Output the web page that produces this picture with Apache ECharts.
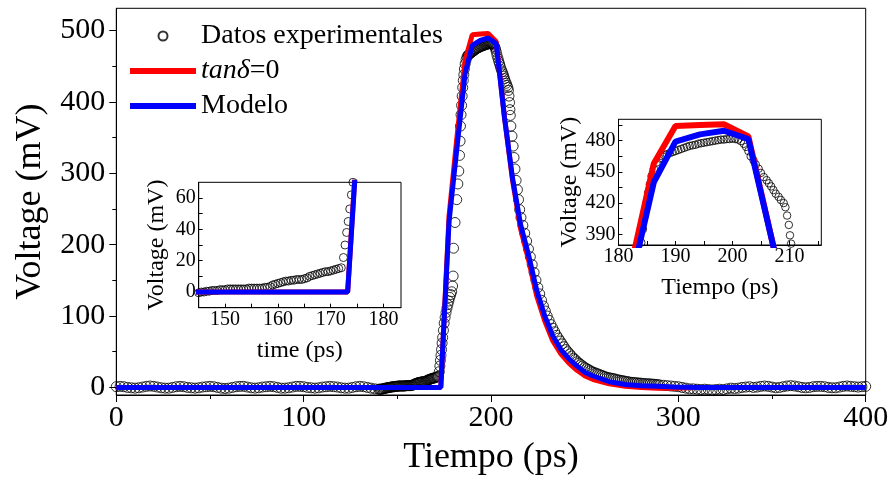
<!DOCTYPE html>
<html>
<head>
<meta charset="utf-8">
<script src="https://cdn.jsdelivr.net/npm/echarts@6/dist/echarts.min.js"></script>
<style>
  html, body { margin: 0; padding: 0; background: #fff; }
  #chart { width: 893px; height: 481px; }
</style>
</head>
<body>
<div id="chart"></div>
<script>
// tick values
const xTicks = [0, 100, 200, 300, 400];
const yTicks = [0, 100, 200, 300, 400, 500];
const yMinorTicks = [50, 150, 250, 350, 450];
const inset1XLabels = [150, 160, 170, 180];
const inset1XTicks = [150, 155, 160, 165, 170, 175, 180];
const inset1YLabels = [0, 20, 40, 60];
const inset1YTicks = [0, 10, 20, 30, 40, 50, 60];
const inset2XLabels = [180, 190, 200, 210];
const inset2XTicks = [185, 190, 195, 200, 205, 210, 215];
const inset2YLabels = [390, 420, 450, 480];
const inset2YTicks = [390, 405, 420, 435, 450, 465, 480, 495];

// measured pulse: [time ps, voltage mV]
const expData = [
  [0, 1], [2, 1.5], [4, 1], [6, 0], [8, -0.5], [10, -1], [12, -0.5], [14, 0.5], [16, 1.5], [18, 2],
  [20, 1.5], [22, 0.5], [24, -0.5], [26, -1], [28, -1], [30, 0], [32, 1], [34, 1.5], [36, 1], [38, 0],
  [40, -0.5], [42, -1], [44, -0.5], [46, 0.5], [48, 1], [50, 1.5], [52, 1], [54, 0], [56, -1], [58, -1.5],
  [60, -1], [62, 0], [64, 1], [66, 1.5], [68, 1.5], [70, 0.5], [72, -0.5], [74, -1], [76, -0.5], [78, 0.5],
  [80, 1], [82, 1.5], [84, 1], [86, 0], [88, -1], [90, -1], [92, -0.5], [94, 0.5], [96, 1.5], [98, 1.5],
  [100, 1], [102, 0], [104, -0.5], [106, -1], [108, -0.5], [110, 0.5], [112, 1], [114, 1.5], [116, 1], [118, 0.5],
  [120, -0.5], [122, -1], [124, -1], [126, 0], [128, 1], [130, 1.5], [132, 1], [134, 0], [136, -1], [138, -2],
  [140, -2.5], [140.5, -2.5], [141, -2.5], [141.5, -2.5], [142, -2], [142.5, -2], [143, -1.5], [143.5, -1], [144, -1], [144.5, -0.5],
  [145, -0.5], [145.5, 0], [146, 0], [146.5, 0.5], [147, 0.5], [147.5, 1], [148, 1], [148.5, 1], [149, 1.5], [149.5, 1.5],
  [150, 1.5], [150.5, 2], [151, 2], [151.5, 2], [152, 2], [152.5, 2], [153, 2], [153.5, 2], [154, 2], [154.5, 2.5],
  [155, 2.5], [155.5, 2.5], [156, 2.5], [156.5, 2.5], [157, 2.5], [157.5, 3], [158, 3], [158.5, 3.5], [159, 4.5], [159.5, 5],
  [160, 5.5], [160.5, 6], [161, 6.5], [161.5, 7], [162, 7], [162.5, 7.5], [163, 7.5], [163.5, 8], [164, 8], [164.5, 8],
  [165, 8.5], [165.5, 9], [166, 10], [166.5, 10.5], [167, 11], [167.5, 11.5], [168, 12], [168.5, 12.5], [169, 13], [169.5, 13],
  [170, 13.5], [170.5, 14], [171, 14.5], [171.5, 15], [172, 15.5], [172.4, 22], [172.7, 30], [173, 38], [173.3, 45], [173.6, 53],
  [173.9, 62], [174.2, 70], [174.6, 80], [175, 90], [175.5, 98], [176, 105], [176.5, 111], [177, 116], [177.5, 121], [178, 126],
  [178.5, 130], [179, 134], [179.5, 142], [179.8, 156], [180, 195], [180.8, 231], [181.7, 263], [182.3, 285], [182.8, 303], [183.2, 325],
  [183.5, 345], [183.7, 366], [184, 382], [184.3, 395], [184.6, 408], [184.9, 420], [185.2, 430], [185.5, 438], [185.8, 446], [186.2, 453],
  [186.7, 459], [187.2, 463], [187.7, 465], [188, 466], [188.5, 467], [189, 468], [189.5, 469], [190, 470], [190.5, 471], [191, 472],
  [191.5, 473], [192, 474], [192.5, 475], [193, 475.5], [193.5, 476], [194, 477], [194.5, 477.5], [195, 478], [195.5, 478.5], [196, 479],
  [196.5, 479.5], [197, 480], [197.5, 480.5], [198, 481], [198.5, 481], [199, 481.5], [199.5, 481.5], [200, 482], [200.5, 481.5], [201, 481],
  [201.5, 479.5], [202, 477], [202.4, 474], [202.8, 470], [203.2, 465], [203.7, 461], [204.1, 457], [204.6, 453], [205, 449], [205.5, 445],
  [206, 442], [206.4, 439], [206.8, 436], [207.2, 432.5], [207.6, 429], [208.1, 426], [208.5, 423], [209, 420], [209.3, 416], [209.6, 408],
  [209.9, 399], [210.1, 389], [210.3, 381], [210.6, 366], [211.2, 352], [211.8, 338], [212.3, 322], [212.8, 306], [213.4, 290], [214.1, 277],
  [214.7, 263], [215.3, 249], [216, 238], [217, 227], [218, 216], [219, 205], [220, 194], [221, 183], [222, 172], [223, 161],
  [224, 150], [225, 140], [226, 131], [227, 122], [228, 114], [229, 107], [230, 100], [231, 94], [232, 88], [233, 83],
  [234, 78], [235, 73], [236, 69], [237, 65], [238, 61], [239, 57], [240, 53], [241, 50], [242, 47], [243, 44],
  [244, 41], [245, 39], [246, 36], [247, 34], [248, 32], [249, 30], [250, 28], [251, 26.5], [252, 25], [253, 23.5],
  [254, 22], [255, 21], [256, 20], [257, 19], [258, 18], [259, 17], [260, 16], [261, 15], [262, 14], [263, 13.5],
  [264, 13], [265, 12.5], [266, 12], [267, 11], [268, 10.5], [269, 10], [270, 9.5], [271, 9], [272, 8.5], [273, 8],
  [274, 7.5], [275, 7], [276, 7], [277, 6.5], [278, 6.5], [279, 6], [280, 6], [281, 5.5], [282, 5.5], [283, 5],
  [284, 5], [285, 5], [286, 4.5], [287, 4.5], [288, 4], [289, 4], [290, 3.5], [292, 3], [294, 2.5], [296, 2],
  [298, 1.5], [300, 1], [302, 0], [304, -1], [306, -2], [308, -2], [310, -2.5], [312, -3], [314, -2.5], [316, -3],
  [318, -3.5], [320, -3], [322, -2.5], [324, -3], [326, -2], [328, -1], [330, -1.5], [332, -1], [334, 0], [336, 0.5],
  [338, 1], [340, 0], [342, 0.5], [344, 1.5], [346, 2], [348, 1.5], [350, 0.5], [352, -0.5], [354, 0], [356, 1],
  [358, 2], [360, 2.5], [362, 2], [364, 1], [366, 0], [368, -0.5], [370, 0], [372, 1], [374, 1.5], [376, 1.5],
  [378, 1], [380, 0], [382, -0.5], [384, -0.5], [386, 0.5], [388, 1.5], [390, 2], [392, 1.5], [394, 1], [396, 0.5],
  [398, 1], [400, 1.5]
];

// simulated curves, shared time grid
const modelTime = [0, 173.2, 177.6, 182, 186.2, 190, 194.3, 198.5, 202.8, 207.2, 211.5, 215.8, 220.1, 224.4,
  228.7, 233, 237.3, 241.6, 245.9, 250.2, 254.5, 263.1, 271.7, 280.3, 288.9, 297.5, 310, 400];
const tanDeltaVolt = [0, 0, 240, 355, 458, 494, 495, 495.7, 484, 378, 290, 222, 178, 128,
  93, 65, 47, 34, 24, 16, 11, 5, 1.5, 0, -1, -1, 0, 0];
const modelVolt = [0, 0, 232, 340, 440, 479, 486, 489.5, 481.5, 378, 293, 228, 185, 136,
  100, 72, 53, 40, 30, 21, 16, 8, 4, 2.5, 1.5, 0.5, 0, 0];

const font = 'Liberation Serif';
const black = '#000';
const red = '#ff0000';
const blue = '#0000ff';
const nameRed = 'tanδ=0';

const chart = echarts.init(document.getElementById('chart'));

const insetX = (gridIndex, min, max, labels, ticks, name) => ({
  type: 'value', gridIndex, min, max,
  axisLine: { onZero: false, lineStyle: { color: black, width: 1 } },
  axisTick: { inside: true, length: 4, customValues: ticks, lineStyle: { color: black } },
  axisLabel: { customValues: labels, margin: 2, fontFamily: font, fontSize: 20, color: black },
  splitLine: { show: false },
  name, nameLocation: 'middle', nameGap: 31,
  nameTextStyle: { fontFamily: font, fontSize: 24, color: black }
});

const insetY = (gridIndex, min, max, labels, ticks, nameGap) => ({
  type: 'value', gridIndex, min, max,
  axisLine: { onZero: false, lineStyle: { color: black, width: 1 } },
  axisTick: { inside: true, length: 4, customValues: ticks, lineStyle: { color: black } },
  axisLabel: { customValues: labels, margin: 3, fontFamily: font, fontSize: 20, color: black },
  splitLine: { show: false },
  name: 'Voltage (mV)', nameLocation: 'middle', nameGap,
  nameTextStyle: { fontFamily: font, fontSize: 24, color: black }
});

const pulseSeries = (xAxisIndex, yAxisIndex, symbolSize, width) => [
  {
    name: 'Datos experimentales', type: 'scatter', xAxisIndex, yAxisIndex,
    data: expData, symbol: 'circle', symbolSize, clip: true, z: 2,
    itemStyle: { color: 'rgba(0,0,0,0)', borderColor: black, borderWidth: 1 }
  },
  {
    name: nameRed, type: 'line', xAxisIndex, yAxisIndex, color: red,
    data: modelTime.map((t, i) => [t, tanDeltaVolt[i]]),
    symbol: 'none', clip: true, z: 3,
    lineStyle: { color: red, width }
  },
  {
    name: 'Modelo', type: 'line', xAxisIndex, yAxisIndex, color: blue,
    data: modelTime.map((t, i) => [t, modelVolt[i]]),
    symbol: 'none', clip: true, z: 4,
    lineStyle: { color: blue, width }
  }
];

const lineIcon = 'path://M0,0H66V6H0Z';

const option = {
  animation: false,
  backgroundColor: '#fff',
  grid: [
    { left: 116.3, top: 8.3, right: 27.3, bottom: 79, show: true, borderColor: black, borderWidth: 1 },
    { left: 198.7, top: 182.3, width: 202.3, height: 125.4, show: true, borderColor: black, borderWidth: 1 },
    { left: 618.5, top: 119.3, width: 202.8, height: 125.7, show: true, borderColor: black, borderWidth: 1 }
  ],
  legend: {
    orient: 'vertical', left: 130, top: 22, padding: 0,
    itemWidth: 66, itemHeight: 9, itemGap: 7,
    textStyle: {
      fontFamily: font, fontSize: 28, color: black,
      rich: { i: { fontFamily: font, fontSize: 28, fontStyle: 'italic', color: black } }
    },
    formatter: (n) => (n === nameRed ? '{i|tanδ}=0' : n),
    data: [
      { name: 'Datos experimentales', icon: 'circle' },
      { name: nameRed, icon: lineIcon },
      { name: 'Modelo', icon: lineIcon }
    ]
  },
  xAxis: [
    {
      type: 'value', gridIndex: 0, min: 0, max: 400, interval: 100,
      axisLine: { onZero: false, lineStyle: { color: black, width: 1 } },
      axisTick: { length: 7, lineStyle: { color: black } },
      minorTick: { show: true, splitNumber: 2, length: 4, lineStyle: { color: black } },
      axisLabel: { margin: 8, fontFamily: font, fontSize: 30, color: black },
      splitLine: { show: false },
      name: 'Tiempo (ps)', nameLocation: 'middle', nameGap: 45,
      nameTextStyle: { fontFamily: font, fontSize: 36, color: black }
    },
    insetX(1, 145, 183.3, inset1XLabels, inset1XTicks, 'time (ps)'),
    insetX(2, 180, 215.6, inset2XLabels, inset2XTicks, 'Tiempo (ps)')
  ],
  yAxis: [
    {
      type: 'value', gridIndex: 0, min: -10.6, max: 531, position: 'left',
      axisLine: { onZero: false, lineStyle: { color: black, width: 1 } },
      axisTick: { length: 7, customValues: yTicks, lineStyle: { color: black } },
      axisLabel: { customValues: yTicks, margin: 11, fontFamily: font, fontSize: 30, color: black },
      splitLine: { show: false },
      name: 'Voltage (mV)', nameLocation: 'middle', nameGap: 68,
      nameTextStyle: { fontFamily: font, fontSize: 36, color: black }
    },
    {
      type: 'value', gridIndex: 0, min: -10.6, max: 531, position: 'left', offset: 0,
      axisLine: { show: false },
      axisTick: { length: 4, customValues: yMinorTicks, lineStyle: { color: black } },
      axisLabel: { show: false },
      splitLine: { show: false }
    },
    insetY(1, -10, 70, inset1YLabels, inset1YTicks, 30),
    insetY(2, 379.7, 500.5, inset2YLabels, inset2YTicks, 34)
  ],
  series: [
    ...pulseSeries(0, 0, 10, 5),
    ...pulseSeries(1, 2, 8, 5),
    ...pulseSeries(2, 3, 7.5, 6)
  ]
};

chart.setOption(option);
</script>
</body>
</html>
